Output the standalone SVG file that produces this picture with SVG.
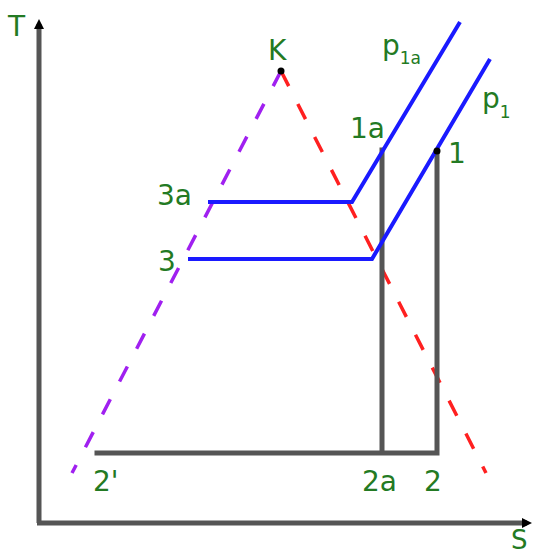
<svg xmlns="http://www.w3.org/2000/svg" width="535" height="557" viewBox="0 0 535 557">
<defs>
<style>
.lbl{font-family:"DejaVu Sans","Liberation Sans",sans-serif;font-size:28px;fill:#237a23}
.sub{font-size:17px}
.axis{stroke:#555;stroke-width:5;fill:none}
.gray{stroke:#555;stroke-width:5;fill:none;stroke-linecap:square}
.blue{stroke:#1a1aff;stroke-width:4;fill:none}
.purple{stroke:#a020f0;stroke-width:3.5;fill:none;stroke-dasharray:17 20}
.red{stroke:#ff2020;stroke-width:3.5;fill:none;stroke-dasharray:17 20}
.dot{fill:#000}
</style>
<marker id="ah" viewBox="0 0 10 10" refX="5" refY="5" markerWidth="2" markerHeight="2" orient="auto" markerUnits="strokeWidth">
<path d="M0,0 L10,5 L0,10 z" fill="#000"/>
</marker>
</defs>
<rect width="535" height="557" fill="#fff"/>
<g id="connectors">
<path class="axis" d="M39,523 V24" marker-end="url(#ah)"/>
<path class="axis" d="M37,523 H527" marker-end="url(#ah)"/>
<path class="purple" d="M281,71 L72,473"/>
<path class="red" d="M281,71 L486,473"/>
<path class="gray" d="M382,150 V453 M437,151 V453 M97,453 H437"/>
<path class="blue" d="M208,202 H352 L460,22"/>
<path class="blue" d="M188,259 H372 L490,59"/>
</g>
<g id="node-K"><circle class="dot" cx="281" cy="71" r="3.5"/><text class="lbl" x="268" y="60">K</text></g>
<g id="node-1"><circle class="dot" cx="437" cy="151" r="3.5"/><text class="lbl" x="448" y="163">1</text></g>
<g id="node-1a"><text class="lbl" x="350" y="138">1a</text></g>
<g id="node-p1a"><text class="lbl" x="382" y="55">p<tspan class="sub" dy="9">1a</tspan></text></g>
<g id="node-p1"><text class="lbl" x="482" y="108">p<tspan class="sub" dy="10">1</tspan></text></g>
<g id="node-3a"><text class="lbl" x="157" y="205">3a</text></g>
<g id="node-3"><text class="lbl" x="158" y="271">3</text></g>
<g id="node-2p"><text class="lbl" x="93" y="491">2'</text></g>
<g id="node-2a"><text class="lbl" x="362" y="491">2a</text></g>
<g id="node-2"><text class="lbl" x="424" y="491">2</text></g>
<g id="node-T"><text class="lbl" x="8" y="36">T</text></g>
<g id="node-S"><text class="lbl" x="511" y="549" style="font-size:26px">S</text></g>
</svg>
